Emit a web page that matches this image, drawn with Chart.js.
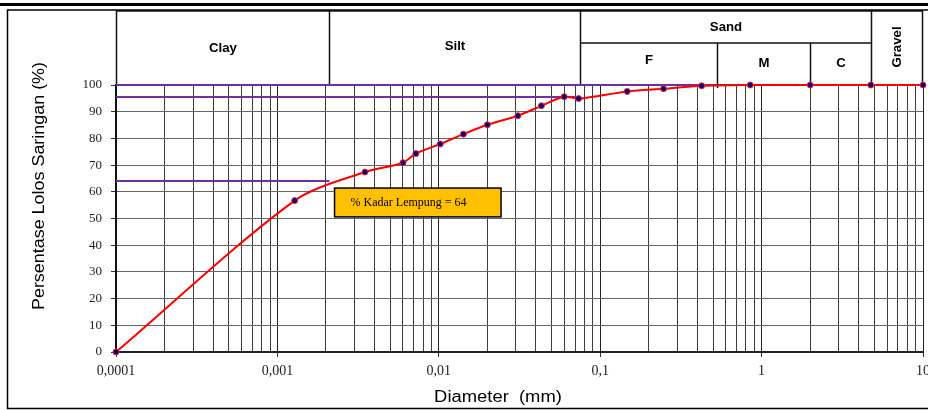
<!DOCTYPE html>
<html>
<head>
<meta charset="utf-8">
<title>Grafik Analisa Saringan</title>
<script src="https://cdn.jsdelivr.net/npm/chart.js@4.4.0/dist/chart.umd.min.js"></script>
<style>
    html, body { margin: 0; padding: 0; background: #fff; }
</style>
</head>
<body>
<canvas id="gradChart" width="928" height="410"></canvas>
<script>
// Hasil analisa saringan + hidrometer
var diameters = [0.0001, 0.00128, 0.00349, 0.0060, 0.00721, 0.0102, 0.0142, 0.020, 0.0309, 0.0432, 0.0598, 0.0735, 0.147, 0.247, 0.425, 0.85, 2.0, 4.75, 10];
var percentPassing = [0, 56.7, 67.4, 70.9, 74.3, 77.9, 81.6, 85.1, 88.5, 92.2, 95.6, 94.9, 97.6, 98.6, 99.7, 100, 100, 100, 100];

// Garis bantu ungu (level, batas diameter)
var refLevels = [100, 95.5, 64];
var refEnds = [0.53, 0.075, 0.0021];

// Tick labels
var decades = [0.0001, 0.001, 0.01, 0.1, 1, 10];
var xTickLabels = ['0,0001', '0,001', '0,01', '0,1', '1', '10'];
var yTicks = [0, 10, 20, 30, 40, 50, 60, 70, 80, 90, 100];

// Klasifikasi tanah (header)
var soilNames = ['Clay', 'Silt', 'Sand', 'Gravel'];
var soilBounds = [0.0001, 0.0021, 0.075, 4.75, 10];
var sandNames = ['F', 'M', 'C'];
var sandBounds = [0.075, 0.53, 2.0, 4.75];

var noteText = '% Kadar Lempung = 64';

function buildPoints(xs, ys) {
    return xs.map(function(x, i) { return { x: x, y: ys[i] }; });
}

var datasets = [{
    label: 'Gradasi',
    data: buildPoints(diameters, percentPassing),
    borderColor: '#ff0000',
    borderWidth: 2,
    backgroundColor: '#000080',
    pointBorderColor: '#ff2020',
    pointBorderWidth: 1,
    pointRadius: 3,
    tension: 0.3,
    clip: 6
}];

refLevels.forEach(function(lv, i) {
    datasets.push({
        label: 'ref' + i,
        data: buildPoints([decades[0], refEnds[i]], [lv, lv]),
        borderColor: '#7030a0',
        borderWidth: 2,
        pointRadius: 0,
        tension: 0,
        clip: 6
    });
});

// draw text stretched horizontally (the original looks a bit wide)
function wideText(ctx, text, x, y, sx, rot) {
    ctx.save();
    ctx.translate(x, y);
    if (rot) ctx.rotate(rot);
    ctx.scale(sx, 1);
    ctx.fillText(text, 0, 0);
    ctx.restore();
}

var frameAndHeader = {
    id: 'frameAndHeader',
    beforeDraw: function(chart) {
        var ctx = chart.ctx;
        ctx.save();
        ctx.fillStyle = '#fff';
        ctx.fillRect(0, 0, chart.width, chart.height);
        ctx.restore();
    },
    beforeDatasetsDraw: function(chart) {
        var ctx = chart.ctx;
        var xs = chart.scales.x;
        var area = chart.chartArea;
        var top = 11, mid = 43, bot = area.top;

        ctx.save();
        var px = function(v) { return Math.round(xs.getPixelForValue(v)) + 0.5; };
        var left = px(soilBounds[0]), right = px(soilBounds[4]) - 1;
        ctx.lineWidth = 1.5;
        ctx.strokeStyle = '#111';
        ctx.strokeRect(left, top, right - left, bot - top);
        ctx.beginPath();
        for (var i = 1; i < soilBounds.length - 1; i++) {
            ctx.moveTo(px(soilBounds[i]), top); ctx.lineTo(px(soilBounds[i]), bot);
        }
        ctx.moveTo(px(sandBounds[0]), mid); ctx.lineTo(px(sandBounds[3]), mid);
        ctx.moveTo(px(sandBounds[1]), mid); ctx.lineTo(px(sandBounds[1]), bot + 3);
        ctx.moveTo(px(sandBounds[2]), mid); ctx.lineTo(px(sandBounds[2]), bot);
        ctx.stroke();

        ctx.fillStyle = '#000';
        ctx.font = 'bold 12px "Liberation Sans", Arial, sans-serif';
        ctx.textAlign = 'center';
        ctx.textBaseline = 'middle';
        var cx = function(a, b) { return (px(a) + px(b)) / 2; };
        wideText(ctx, soilNames[0], cx(soilBounds[0], soilBounds[1]), 49, 1.1);
        wideText(ctx, soilNames[1], cx(soilBounds[1], soilBounds[2]), 47, 1.1);
        wideText(ctx, soilNames[2], cx(soilBounds[2], soilBounds[3]), 28, 1.1);
        wideText(ctx, sandNames[0], cx(sandBounds[0], sandBounds[1]), 61, 1.1);
        wideText(ctx, sandNames[1], cx(sandBounds[1], sandBounds[2]), 64, 1.1);
        wideText(ctx, sandNames[2], cx(sandBounds[2], sandBounds[3]), 64, 1.1);
        wideText(ctx, soilNames[3], cx(soilBounds[3], soilBounds[4]), 47, 1.1, -Math.PI / 2);
        ctx.restore();
    },
    afterDraw: function(chart) {
        var ctx = chart.ctx;
        var xs = chart.scales.x, ys = chart.scales.y;

        ctx.save();
        // outer frame
        ctx.strokeStyle = '#000';
        ctx.lineWidth = 3;
        ctx.beginPath(); ctx.moveTo(0, 4.5); ctx.lineTo(chart.width, 4.5); ctx.stroke();
        ctx.lineWidth = 1.5;
        ctx.beginPath();
        ctx.moveTo(chart.width, 10); ctx.lineTo(7.5, 10); ctx.lineTo(7.5, 408.5); ctx.lineTo(chart.width, 408.5);
        ctx.stroke();

        // note box
        var bx1 = xs.getPixelForValue(0.00226), bx2 = xs.getPixelForValue(0.0243);
        var by1 = ys.getPixelForValue(61.4), by2 = ys.getPixelForValue(50.6);
        ctx.fillStyle = '#ffc000';
        ctx.fillRect(bx1, by1, bx2 - bx1, by2 - by1);
        ctx.lineWidth = 1.5;
        ctx.strokeStyle = '#000';
        ctx.strokeRect(bx1, by1, bx2 - bx1, by2 - by1);
        ctx.fillStyle = '#000';
        ctx.font = '12px "Liberation Serif", "Times New Roman", serif';
        ctx.textAlign = 'left';
        ctx.textBaseline = 'middle';
        ctx.fillText(noteText, bx1 + 16, (by1 + by2) / 2);

        // axis titles
        ctx.font = '16px "Liberation Sans", Arial, sans-serif';
        ctx.textAlign = 'center';
        wideText(ctx, 'Diameter  (mm)', 498, 398, 1.15);
        wideText(ctx, 'Persentase Lolos Saringan (%)', 40, 186, 1.12, -Math.PI / 2);
        ctx.restore();
    }
};

var ctx = document.getElementById('gradChart').getContext('2d');
new Chart(ctx, {
    type: 'line',
    data: { datasets: datasets },
    options: {
        responsive: false,
        animation: false,
        layout: { padding: { left: 0, top: 85, right: 4, bottom: 0 } },
        plugins: { legend: { display: false }, tooltip: { enabled: false } },
        scales: {
            x: {
                type: 'logarithmic',
                min: decades[0],
                max: decades[decades.length - 1],
                afterBuildTicks: function(scale) {
                    var list = [];
                    decades.forEach(function(d, i) {
                        if (i === decades.length - 1) { list.push({ value: d }); return; }
                        for (var m = 1; m <= 9; m++) list.push({ value: +(d * m).toPrecision(3) });
                    });
                    scale.ticks = list;
                },
                afterFit: function(scale) {
                    scale.height = 58;
                    scale.paddingLeft = 0;
                    scale.paddingRight = 0;
                },
                border: { color: '#222', width: 2 },
                grid: {
                    color: function(c) {
                        return (c.tick && decades.indexOf(c.tick.value) >= 0) ? '#222' : '#3c3c3c';
                    },
                    tickColor: function(c) {
                        return (c.tick && decades.indexOf(c.tick.value) >= 0) ? '#333' : 'rgba(0,0,0,0)';
                    },
                    tickLength: 5,
                    lineWidth: 1
                },
                ticks: {
                    autoSkip: false,
                    maxRotation: 0,
                    padding: 6,
                    color: '#222',
                    font: { family: '"Liberation Serif", "Times New Roman", serif', size: 14 },
                    callback: function(value) {
                        var k = decades.indexOf(value);
                        return k >= 0 ? xTickLabels[k] : '';
                    }
                }
            },
            y: {
                min: yTicks[0],
                max: yTicks[yTicks.length - 1],
                afterBuildTicks: function(scale) {
                    scale.ticks = yTicks.map(function(v) { return { value: v }; });
                },
                afterFit: function(scale) {
                    scale.width = 116;
                    scale.paddingTop = 0;
                    scale.paddingBottom = 0;
                },
                border: { color: '#111', width: 2 },
                grid: { color: '#666', tickColor: '#333', tickLength: 5 },
                ticks: {
                    padding: 9,
                    color: '#222',
                    font: { family: '"Liberation Serif", "Times New Roman", serif', size: 13 }
                }
            }
        }
    },
    plugins: [frameAndHeader]
});
</script>
</body>
</html>
